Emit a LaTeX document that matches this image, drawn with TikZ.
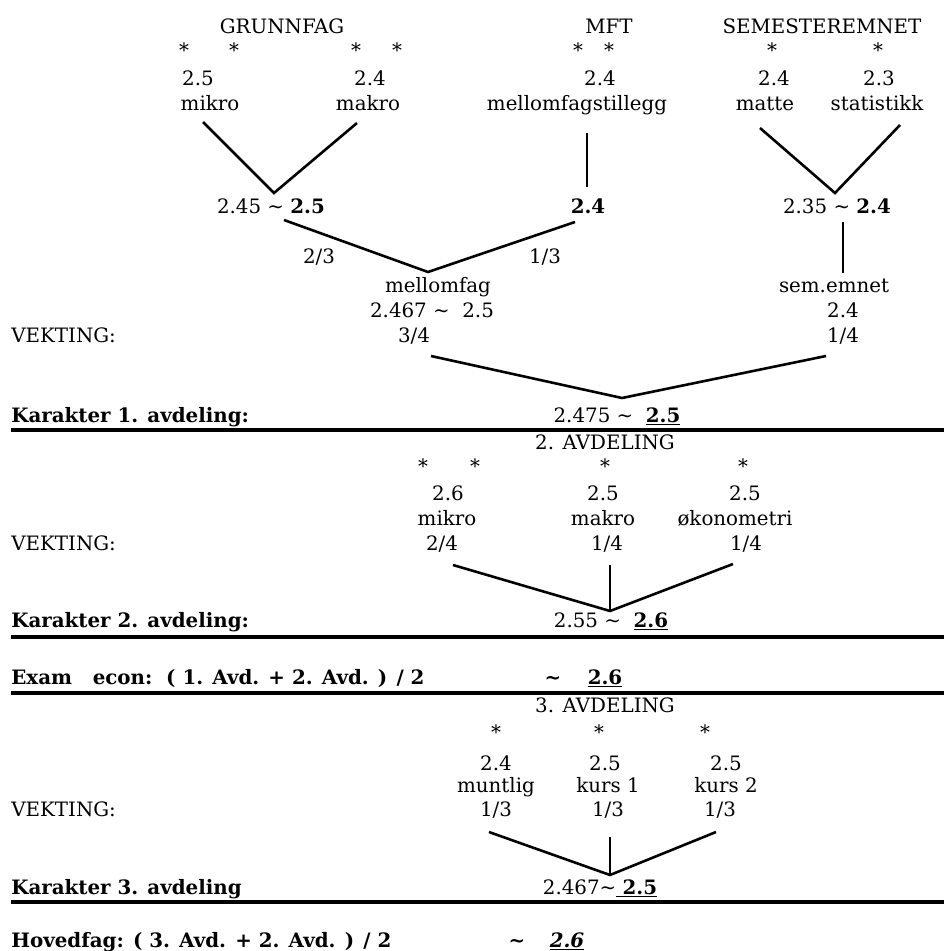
\documentclass[tikz,border=0pt]{standalone}
\usepackage{fontspec}
\setmainfont{DejaVu Serif}
\usepackage{xcolor}
\usepackage{tikz}
\definecolor{paper}{HTML}{FFFFFF}
\definecolor{ink}{HTML}{000000}
\tikzset{
  lab/.style={text=ink, font=\fontsize{11.5pt}{14pt}\selectfont, inner sep=0pt, anchor=base},
  labb/.style={lab, font=\fontsize{11.5pt}{14pt}\selectfont\bfseries, anchor=base west},
  arm/.style={draw=ink, line width=1.5pt, line join=miter},
  stem/.style={draw=ink, line width=1.0pt},
  split/.style={draw=ink, line width=1.8pt},
}
\newcommand{\tl}{\textasciitilde}

\begin{document}
\begin{tikzpicture}[x=0.58pt, y=-0.58pt]
  \fill[paper] (0,0) rectangle (944,951);
  \useasboundingbox (0,0) rectangle (944,951);

  % 1. avdeling: heads
  \node[lab] (grf) at (282,34) {GRUNNFAG};
  \node[lab] (mft) at (609,34) {MFT};
  \node[lab] (sem) at (822,34) {SEMESTEREMNET};
  \node[lab] (st1) at (184,58) {*};
  \node[lab] (st2) at (234,58) {*};
  \node[lab] (st3) at (356,58) {*};
  \node[lab] (st4) at (397,58) {*};
  \node[lab] (st5) at (578,58) {*};
  \node[lab] (st6) at (609,58) {*};
  \node[lab] (st7) at (772,58) {*};
  \node[lab] (st8) at (878,58) {*};

  \node[lab] (mik-v) at (198,85) {2.5};
  \node[lab] (mak-v) at (370,85) {2.4};
  \node[lab] (mft-v) at (600,85) {2.4};
  \node[lab] (mat-v) at (774,85) {2.4};
  \node[lab] (sta-v) at (879,85) {2.3};
  \node[lab] (mik) at (210,110) {mikro};
  \node[lab] (mak) at (368,110) {makro};
  \node[lab] (mfs) at (577,110) {mellomfagstillegg};
  \node[lab] (mat) at (765,110) {matte};
  \node[lab] (sta) at (877,110) {statistikk};

  \node[lab] (grf-sum) at (271,213) {2.45 \tl{} \textbf{2.5}};
  \node[lab] (mft-sum) at (588,213) {\textbf{2.4}};
  \node[lab] (sem-sum) at (837,213) {2.35 \tl{} \textbf{2.4}};

  \coordinate (mik-e) at (203,122);
  \coordinate (mak-e) at (357,123);
  \coordinate (grf-a) at (274,193);
  \coordinate (mfs-e) at (587,133);
  \coordinate (mft-a) at (587,187);
  \coordinate (mat-e) at (760,128);
  \coordinate (sta-e) at (900,125);
  \coordinate (sem-a) at (835,193);
  \draw[arm] (mik-e) -- (grf-a) -- (mak-e);
  \draw[arm] (mfs-e) -- (mft-a);
  \draw[arm] (mat-e) -- (sem-a) -- (sta-e);

  % mellomfag
  \coordinate (grf-e) at (284,220);
  \coordinate (mft-e) at (575,222);
  \coordinate (mf-a) at (428,272);
  \coordinate (sem-e) at (843,222);
  \coordinate (sem-b) at (843,273);
  \draw[arm] (grf-e) -- (mf-a) -- (mft-e);
  \draw[arm] (sem-e) -- (sem-b);
  \node[lab] (w23) at (319,263) {2/3};
  \node[lab] (w13) at (545,263) {1/3};

  \node[lab] (mf) at (438,292) {mellomfag};
  \node[lab] (mf-v) at (432,317) {2.467 \tl{}\ \ 2.5};
  \node[lab] (mf-w) at (414,342) {3/4};
  \node[lab] (se) at (834,292) {sem.emnet};
  \node[lab] (se-v) at (843,317) {2.4};
  \node[lab] (se-w) at (843,342) {1/4};
  \node[lab, anchor=base west] (vk1) at (11,342) {VEKTING:};

  \coordinate (mf-e) at (431,356);
  \coordinate (se-e) at (826,356);
  \coordinate (a1-a) at (622,398);
  \draw[arm] (mf-e) -- (a1-a) -- (se-e);

  \node[labb] (k1) at (11,422) {Karakter 1. avdeling:};
  \node[lab] (k1-v) at (617,422) {2.475 \tl{}\ \ \underline{\textbf{2.5}}};
  \coordinate (l1-w) at (11,430);
  \coordinate (l1-e) at (944,430);
  \draw[split] (l1-w) -- (l1-e);

  % 2. avdeling
  \node[lab] (a2) at (605,449) {2. AVDELING};
  \node[lab] (st9) at (423,473) {*};
  \node[lab] (st10) at (475,473) {*};
  \node[lab] (st11) at (605,473) {*};
  \node[lab] (st12) at (743,473) {*};
  \node[lab] (mik2-v) at (448,500) {2.6};
  \node[lab] (mak2-v) at (603,500) {2.5};
  \node[lab] (oko-v) at (745,500) {2.5};
  \node[lab] (mik2) at (447,525) {mikro};
  \node[lab] (mak2) at (603,525) {makro};
  \node[lab] (oko) at (735,525) {økonometri};
  \node[lab] (mik2-w) at (442,550) {2/4};
  \node[lab] (mak2-w) at (607,550) {1/4};
  \node[lab] (oko-w) at (746,550) {1/4};
  \node[lab, anchor=base west] (vk2) at (11,550) {VEKTING:};

  \coordinate (mik2-e) at (453,565);
  \coordinate (mak2-e) at (610,565);
  \coordinate (oko-e) at (733,564);
  \coordinate (a2-a) at (610,611);
  \draw[arm] (mik2-e) -- (a2-a) -- (oko-e);
  \draw[stem] (mak2-e) -- (a2-a);

  \node[labb] (k2) at (11,627) {Karakter 2. avdeling:};
  \node[lab] (k2-v) at (611,627) {2.55 \tl{}\ \ \underline{\textbf{2.6}}};
  \coordinate (l2-w) at (11,637);
  \coordinate (l2-e) at (944,637);
  \draw[split] (l2-w) -- (l2-e);

  \node[labb] (ex) at (11,684) {Exam\ \ \ econ:\ \ ( 1. Avd. + 2. Avd. ) / 2};
  \node[lab] (ex-t) at (553,684) {\textbf{\tl}};
  \node[lab] (ex-v) at (605,684) {\underline{\textbf{2.6}}};
  \coordinate (l3-w) at (11,693);
  \coordinate (l3-e) at (944,693);
  \draw[split] (l3-w) -- (l3-e);

  % 3. avdeling
  \node[lab] (a3) at (605,712) {3. AVDELING};
  \node[lab] (st13) at (496,739) {*};
  \node[lab] (st14) at (599,739) {*};
  \node[lab] (st15) at (705,739) {*};
  \node[lab] (mun-v) at (496,770) {2.4};
  \node[lab] (ku1-v) at (605,770) {2.5};
  \node[lab] (ku2-v) at (726,770) {2.5};
  \node[lab] (mun) at (496,792) {muntlig};
  \node[lab] (ku1) at (608,792) {kurs 1};
  \node[lab] (ku2) at (726,792) {kurs 2};
  \node[lab] (mun-w) at (496,816) {1/3};
  \node[lab] (ku1-w) at (608,816) {1/3};
  \node[lab] (ku2-w) at (720,816) {1/3};
  \node[lab, anchor=base west] (vk3) at (11,816) {VEKTING:};

  \coordinate (mun-e) at (489,832);
  \coordinate (ku1-e) at (610,837);
  \coordinate (ku2-e) at (716,832);
  \coordinate (a3-a) at (610,875);
  \draw[arm] (mun-e) -- (a3-a) -- (ku2-e);
  \draw[stem] (ku1-e) -- (a3-a);

  \node[labb] (k3) at (11,894) {Karakter 3. avdeling};
  \node[lab] (k3-v) at (600,894) {2.467\tl\underline{\ \textbf{2.5}}};
  \coordinate (l4-w) at (11,902);
  \coordinate (l4-e) at (944,902);
  \draw[split] (l4-w) -- (l4-e);

  \node[labb] (hf) at (11,947) {Hovedfag: ( 3. Avd. + 2. Avd. ) / 2};
  \node[lab] (hf-t) at (517,947) {\textbf{\tl}};
  \node[lab] (hf-v) at (567,947) {\underline{\textbf{\textit{2.6}}}};
\end{tikzpicture}
\end{document}
